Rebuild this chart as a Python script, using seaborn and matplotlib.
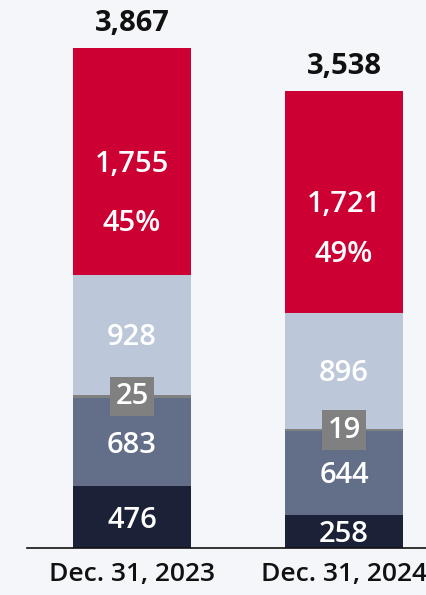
import pandas as pd
import numpy as np
import matplotlib
matplotlib.use('Agg')
import matplotlib.pyplot as plt
import seaborn as sns

# Chart data
periods = ['Dec. 31, 2023', 'Dec. 31, 2024']
seg_bottom = [476, 258]      # navy
seg_lower = [683, 644]       # slate
seg_small = [25, 19]         # grey sliver
seg_mid = [928, 896]         # light blue-grey
seg_top = [1755, 1721]       # red
top_pct = ['45%', '49%']
totals = [3867, 3538]

segments = [seg_bottom, seg_lower, seg_small, seg_mid, seg_top]
colors = ['#1b2237', '#636e88', '#808080', '#bcc8d9', '#cc0033']

bg = '#f5f6fa'
sns.set_style('white')
plt.rcParams['font.family'] = ['Open Sans', 'DejaVu Sans']

fig = plt.figure(figsize=(4.26, 5.95), dpi=100, facecolor=bg)
ax = fig.add_axes([27 / 426, 47 / 595, 399 / 426, 548 / 595])
ax.set_facecolor(bg)

# stacked bars: draw cumulative heights from the top down
cum = np.cumsum(np.array(segments), axis=0)
for i in range(len(segments) - 1, -1, -1):
    df = pd.DataFrame({'period': periods, 'value': cum[i]})
    sns.barplot(data=df, x='period', y='value', color=colors[i], width=0.557,
                saturation=1, edgecolor='none', linewidth=0, ax=ax)

ax.set_xlim(-0.495, 1.387)
ax.set_ylim(0, 4238)
ax.set_xlabel('')
ax.set_ylabel('')
ax.set_yticks([])
for s in ['top', 'right', 'left']:
    ax.spines[s].set_visible(False)
ax.spines['bottom'].set_color('#111111')
ax.spines['bottom'].set_linewidth(1.2)
ax.tick_params(axis='x', length=0, pad=10, labelsize=19)
for lab in ax.get_xticklabels():
    lab.set_fontweight('semibold')
    lab.set_color('#111111')

fs = 21
wt = 'semibold'
pct_offset = [-59, -50]  # pixels below the red value label
for j in range(len(periods)):
    base = np.concatenate([[0], cum[:, j]])
    # navy, slate, light labels
    for k in [0, 1, 3]:
        mid = (base[k] + base[k + 1]) / 2
        ax.annotate(f'{segments[k][j]:,}', (j, mid), xytext=(0, -2),
                    textcoords='offset points', ha='center', va='center',
                    color='white', fontsize=fs, fontweight=wt)
    # grey sliver label in a box
    mid = (base[2] + base[3]) / 2
    ax.text(j, mid, f'{seg_small[j]}', ha='center', va='center', color='white',
            fontsize=fs, fontweight=wt,
            bbox=dict(boxstyle='square,pad=0.18', fc='#808080', ec='none'))
    # red segment: value and share
    mid = (base[4] + base[5]) / 2
    ax.annotate(f'{seg_top[j]:,}', (j, mid), xytext=(0, -2),
                textcoords='offset points', ha='center', va='center',
                color='white', fontsize=fs, fontweight=wt)
    ax.annotate(top_pct[j], (j, mid), xytext=(0, pct_offset[j] * 0.72 - 2),
                textcoords='offset points', ha='center', va='center',
                color='white', fontsize=fs, fontweight=wt)
    # total above bar
    ax.annotate(f'{totals[j]:,}', (j, totals[j]), xytext=(0, 7),
                textcoords='offset points', ha='center', va='bottom',
                color='#111111', fontsize=fs, fontweight='bold')

fig.savefig('out.png', dpi=100, facecolor=bg)
